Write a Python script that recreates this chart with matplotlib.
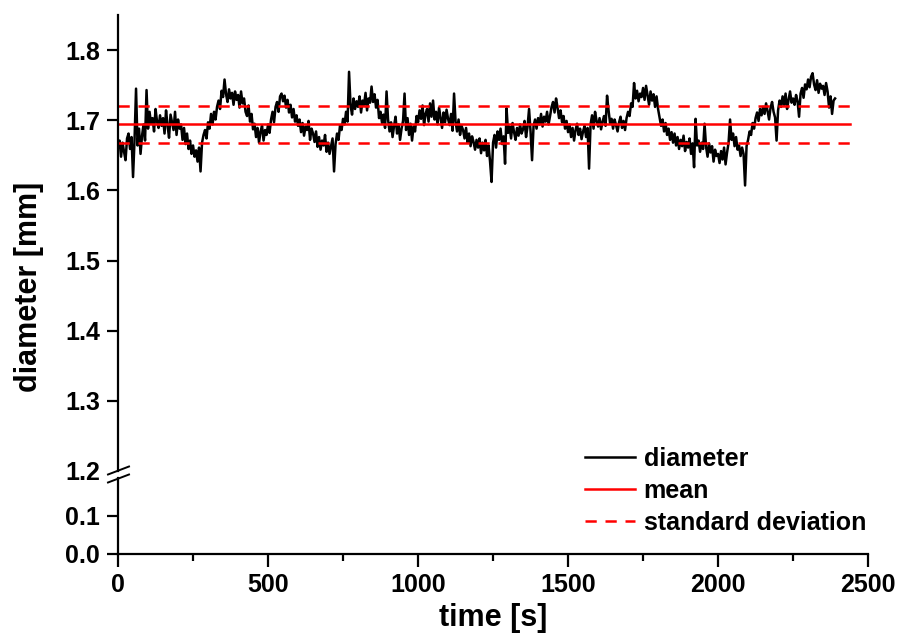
import numpy as np
import matplotlib.pyplot as plt
from matplotlib.lines import Line2D

plt.rcParams['font.family'] = ['Liberation Sans', 'DejaVu Sans']
plt.rcParams['font.weight'] = 'bold'
plt.rcParams['font.size'] = 18

# diameter readings, one every 5 s
diameter = [
    1.662, 1.671, 1.648, 1.668, 1.655, 1.643, 1.674, 1.681, 1.659, 1.676,
    1.619, 1.672, 1.745, 1.664, 1.688, 1.652, 1.678, 1.694, 1.671, 1.743,
    1.688, 1.712, 1.695, 1.703, 1.684, 1.716, 1.698, 1.689, 1.707, 1.692,
    1.703, 1.681, 1.714, 1.693, 1.675, 1.708, 1.697, 1.686, 1.712, 1.679,
    1.701, 1.688, 1.694, 1.672, 1.689, 1.666, 1.681, 1.659, 1.671, 1.652,
    1.664, 1.648, 1.657, 1.641, 1.661, 1.627, 1.668, 1.679, 1.686, 1.674,
    1.697, 1.688, 1.709, 1.694, 1.712, 1.701, 1.719, 1.728, 1.716, 1.742,
    1.733, 1.758, 1.737, 1.726, 1.744, 1.731, 1.739, 1.722, 1.741, 1.729,
    1.736, 1.718, 1.741, 1.724, 1.731, 1.712, 1.706, 1.721, 1.698, 1.709,
    1.687, 1.695, 1.676, 1.689, 1.668, 1.684, 1.692, 1.671, 1.686, 1.679,
    1.694, 1.682, 1.701, 1.712, 1.697, 1.719, 1.726, 1.712, 1.734, 1.738,
    1.727, 1.735, 1.718, 1.729, 1.711, 1.722, 1.704, 1.716, 1.698, 1.707,
    1.692, 1.701, 1.683, 1.696, 1.678, 1.691, 1.686, 1.699, 1.672, 1.688,
    1.681, 1.669, 1.684, 1.662, 1.676, 1.658, 1.671, 1.664, 1.679, 1.655,
    1.668, 1.652, 1.663, 1.674, 1.627, 1.666, 1.681, 1.672, 1.693, 1.686,
    1.702, 1.694, 1.712, 1.698, 1.769, 1.721, 1.708, 1.731, 1.716, 1.727,
    1.719, 1.734, 1.711, 1.728, 1.722, 1.739, 1.714, 1.731, 1.725, 1.748,
    1.726, 1.737, 1.718, 1.729, 1.703, 1.712, 1.696, 1.708, 1.689, 1.741,
    1.701, 1.684, 1.697, 1.676, 1.692, 1.705, 1.681, 1.694, 1.672, 1.688,
    1.699, 1.738, 1.686, 1.703, 1.679, 1.695, 1.671, 1.691, 1.684, 1.706,
    1.697, 1.714, 1.702, 1.721, 1.693, 1.709, 1.716, 1.698, 1.724, 1.705,
    1.728, 1.701, 1.712, 1.694, 1.718, 1.703, 1.689, 1.711, 1.697, 1.715,
    1.702, 1.693, 1.709, 1.685, 1.738, 1.698, 1.684, 1.701, 1.679, 1.692,
    1.686, 1.674, 1.689, 1.668, 1.681, 1.663, 1.677, 1.669, 1.658, 1.672,
    1.661, 1.674, 1.653, 1.668, 1.657, 1.672, 1.649, 1.664, 1.641, 1.612,
    1.668, 1.679, 1.661, 1.684, 1.672, 1.688, 1.666, 1.677, 1.638, 1.717,
    1.682, 1.691, 1.674, 1.696, 1.683, 1.672, 1.689, 1.678, 1.694, 1.681,
    1.687, 1.699, 1.676, 1.691, 1.716, 1.684, 1.643, 1.692, 1.701, 1.688,
    1.703, 1.694, 1.709, 1.691, 1.705, 1.698, 1.712, 1.694, 1.706, 1.719,
    1.726, 1.711, 1.731, 1.718, 1.703, 1.714, 1.697, 1.706, 1.688, 1.699,
    1.683, 1.694, 1.676, 1.689, 1.671, 1.686, 1.695, 1.679, 1.688, 1.673,
    1.684, 1.692, 1.676, 1.689, 1.631, 1.694, 1.707, 1.688, 1.712, 1.699,
    1.691, 1.703, 1.687, 1.698, 1.706, 1.692, 1.735, 1.714, 1.696, 1.702,
    1.688, 1.701, 1.693, 1.684, 1.697, 1.705, 1.689, 1.699, 1.686, 1.703,
    1.712, 1.706, 1.724, 1.719, 1.753, 1.731, 1.742, 1.727, 1.738, 1.733,
    1.746, 1.729, 1.749, 1.735, 1.722, 1.741, 1.728, 1.737, 1.719, 1.734,
    1.716, 1.704, 1.692, 1.701, 1.684, 1.696, 1.679, 1.688, 1.672, 1.683,
    1.668, 1.681, 1.664, 1.676, 1.659, 1.672, 1.663, 1.678, 1.656, 1.669,
    1.661, 1.674, 1.652, 1.667, 1.633, 1.702, 1.664, 1.671, 1.655, 1.668,
    1.659, 1.695, 1.662, 1.648, 1.667, 1.654, 1.663, 1.641, 1.658, 1.649,
    1.652, 1.639, 1.656, 1.644, 1.661, 1.637, 1.654, 1.668, 1.701, 1.672,
    1.681, 1.663, 1.676, 1.658, 1.664, 1.649, 1.661, 1.652, 1.607, 1.663,
    1.672, 1.684, 1.679, 1.696, 1.688, 1.703, 1.711, 1.699, 1.716, 1.707,
    1.719, 1.709, 1.724, 1.713, 1.701, 1.718, 1.726, 1.712, 1.704, 1.671,
    1.714, 1.728, 1.719, 1.734, 1.722, 1.738, 1.716, 1.729, 1.741, 1.725,
    1.731, 1.722, 1.736, 1.727, 1.705, 1.738, 1.746, 1.732, 1.751, 1.744,
    1.758, 1.747, 1.762, 1.767, 1.751, 1.743, 1.757, 1.739, 1.752, 1.745,
    1.749, 1.736, 1.753, 1.741, 1.718, 1.734, 1.709, 1.728, 1.731,
]
time_s = np.arange(len(diameter)) * 5

mean_span = [0, 2440]
mean_d = 1.694
std_d = 0.026

fig = plt.figure(figsize=(8.99, 6.35), dpi=100)
ax_top = fig.add_axes([0.1313, 0.2583, 0.8343, 0.7181])
ax_bot = fig.add_axes([0.1313, 0.1276, 0.8343, 0.1197])

dash = (4.5, 3.5)
ax_top.plot(time_s, diameter, color='black', lw=1.8, label='diameter')
ax_top.plot(mean_span, [mean_d, mean_d], color='#ff0000', lw=1.8, label='mean')
ax_top.plot(mean_span, [mean_d + std_d] * 2, color='#ff0000', lw=1.8,
            dashes=dash, label='standard deviation')
ax_top.plot(mean_span, [mean_d - std_d] * 2, color='#ff0000', lw=1.8, dashes=dash)

for ax in (ax_top, ax_bot):
    ax.set_xlim(0, 2500)
    for side in ('top', 'right'):
        ax.spines[side].set_visible(False)
    ax.spines['left'].set_linewidth(1.6)
    ax.spines['bottom'].set_linewidth(1.6)
    ax.tick_params(axis='y', direction='out', length=8, width=1.6, pad=5, labelsize=18)

ax_top.set_ylim(1.2, 1.85)
ax_top.set_yticks(np.arange(1.2, 1.81, 0.1))
ax_top.set_yticklabels(['1.2', '1.3', '1.4', '1.5', '1.6', '1.7', '1.8'])
ax_top.yaxis.get_major_ticks()[0].tick1line.set_visible(False)
ax_top.spines['bottom'].set_visible(False)
ax_top.tick_params(axis='x', bottom=False, labelbottom=False)

ax_bot.set_ylim(0, 0.2)
ax_bot.set_yticks([0.0, 0.1])
ax_bot.set_yticklabels(['0.0', '0.1'])
ax_bot.set_xticks([0, 500, 1000, 1500, 2000, 2500])
ax_bot.set_xticks([250, 750, 1250, 1750, 2250], minor=True)
ax_bot.tick_params(axis='x', which='major', direction='out', length=9, width=1.6,
                   pad=5, labelsize=18)
ax_bot.tick_params(axis='x', which='minor', direction='out', length=5, width=1.6)
ax_bot.set_xlabel('time [s]', fontsize=22, fontweight='bold', labelpad=4)

fig.text(0.032, 0.548, 'diameter [mm]', rotation=90, ha='center', va='center',
         fontsize=22, fontweight='bold')

# axis break marks
W, H = 899, 635
for y0 in (474.5, 482.5):
    fig.add_artist(Line2D([108 / W, 129 / W], [(H - y0) / H, (H - y0 + 8) / H],
                          transform=fig.transFigure, color='black', lw=1.4))

fig.legend(*ax_top.get_legend_handles_labels(), loc='upper left',
           bbox_to_anchor=(0.6507, 0.296), frameon=False, borderpad=0,
           borderaxespad=0, handlelength=2.0, handletextpad=0.35,
           labelspacing=0.32, fontsize=18)

fig.savefig('out.png', dpi=100, facecolor='white')
